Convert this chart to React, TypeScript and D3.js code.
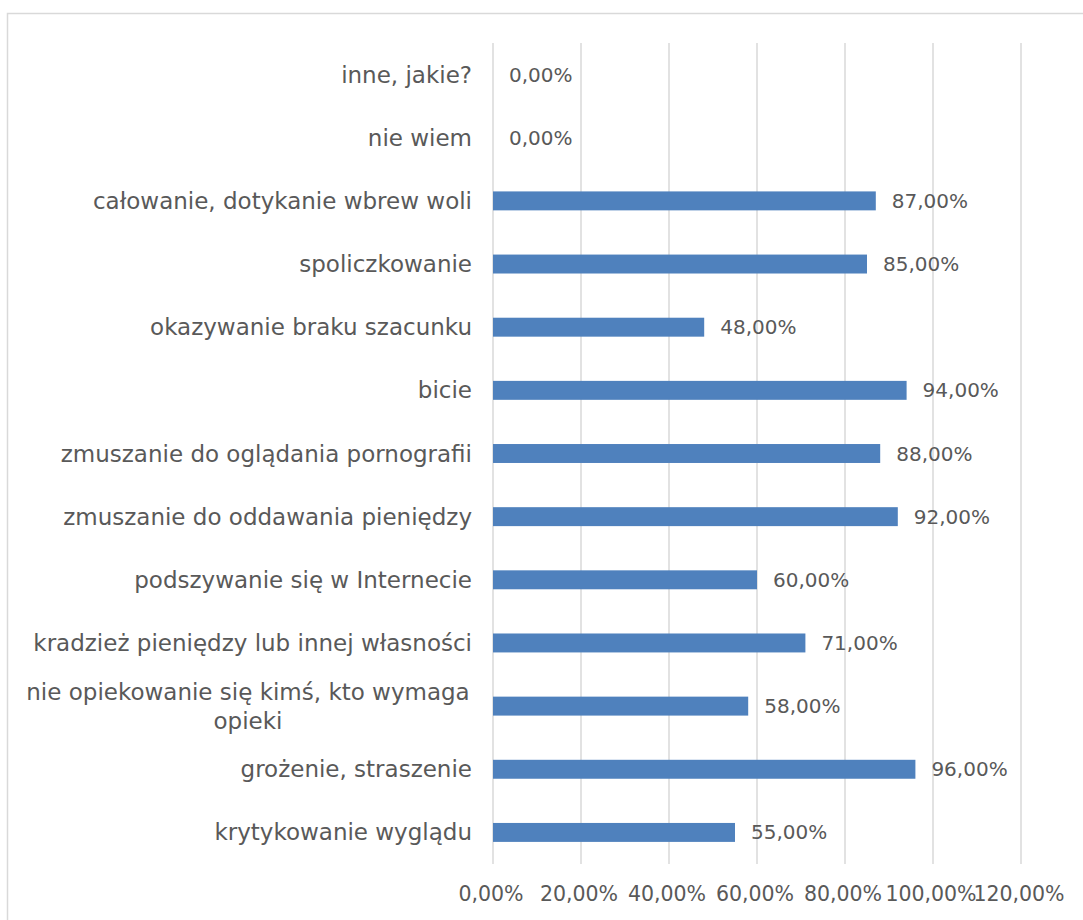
import React, { useRef, useEffect } from 'react';
import * as d3 from 'd3';

const categories: string[] = [
    'inne, jakie?',
    'nie wiem',
    'całowanie, dotykanie wbrew woli',
    'spoliczkowanie',
    'okazywanie braku szacunku',
    'bicie',
    'zmuszanie do oglądania pornografii',
    'zmuszanie do oddawania pieniędzy',
    'podszywanie się w Internecie',
    'kradzież pieniędzy lub innej własności',
    'nie opiekowanie się kimś, kto wymaga opieki',
    'grożenie, straszenie',
    'krytykowanie wyglądu',
];

const values: number[] = [0, 0, 87, 85, 48, 94, 88, 92, 60, 71, 58, 96, 55];

const ticks: number[] = [0, 20, 40, 60, 80, 100, 120];

const width = 1083;
const height = 920;
const FONT = '"DejaVu Sans", sans-serif';
const TEXT = '#595959';
const GRID = '#d9d9d9';
const BAR = '#4f81bd';

const fmt = (v: number) => v.toFixed(2).replace('.', ',') + '%';

// naive word wrap by characters, good enough for these labels
function wrapLabel(s: string, maxChars: number): string[] {
    if (s.length <= maxChars + 2) return [s];
    const words = s.split(' ');
    const lines: string[] = [];
    let cur = '';
    words.forEach(w => {
        const next = cur ? cur + ' ' + w : w;
        if (next.length > maxChars && cur) {
            lines.push(cur);
            cur = w;
        } else {
            cur = next;
        }
    });
    if (cur) lines.push(cur);
    return lines;
}

function BarChart() {
    const ref = useRef<SVGSVGElement>(null);

    useEffect(() => {
        if (!ref.current) return;
        const svg = d3.select(ref.current);
        svg.selectAll('*').remove();

        const x = d3.scaleLinear().domain([0, 120]).range([493, 1021]);
        const y = d3.scaleBand<string>().domain(categories).range([43, 864]).paddingInner(0.7).paddingOuter(0.35);

        // chart area border
        svg.append('rect')
            .attr('x', 7.5).attr('y', 13.5)
            .attr('width', 1100).attr('height', 940)
            .attr('fill', '#fff')
            .attr('stroke', GRID)
            .attr('stroke-width', 1.5);

        svg.append('g')
            .selectAll('line')
            .data(ticks)
            .join('line')
                .attr('x1', d => x(d)).attr('x2', d => x(d))
                .attr('y1', 43).attr('y2', 864)
                .attr('stroke', GRID)
                .attr('stroke-width', 1.5);

        svg.append('g')
            .selectAll('rect')
            .data(values)
            .join('rect')
                .attr('x', x(0))
                .attr('y', (d, i) => y(categories[i])!)
                .attr('width', d => x(d) - x(0))
                .attr('height', y.bandwidth())
                .attr('fill', BAR);

        svg.append('g')
                .attr('font-family', FONT)
                .attr('font-size', 20)
                .attr('fill', TEXT)
            .selectAll('text')
            .data(values)
            .join('text')
                .attr('x', d => x(d) + 16)
                .attr('y', (d, i) => y(categories[i])! + y.bandwidth() / 2)
                .attr('dy', '0.35em')
                .text(d => fmt(d));

        // category labels
        const labels = svg.append('g')
                .attr('font-family', FONT)
                .attr('font-size', 23)
                .attr('fill', TEXT);
        categories.forEach(c => {
            const lines = wrapLabel(c, 36);
            const cy = y(c)! + y.bandwidth() / 2;
            const lx = lines.length > 1 ? 248 : 472;
            const t = labels.append('text')
                .attr('text-anchor', lines.length > 1 ? 'middle' : 'end')
                .attr('x', lx)
                .attr('y', cy - (lines.length - 1) * 14.5);
            lines.forEach((l, i) => {
                t.append('tspan')
                    .attr('x', lx)
                    .attr('dy', i === 0 ? '0.35em' : 29)
                    .text(l);
            });
        });

        svg.append('g')
                .attr('font-family', FONT)
                .attr('font-size', 20.5)
                .attr('fill', TEXT)
                .attr('text-anchor', 'middle')
            .selectAll('text')
            .data(ticks)
            .join('text')
                .attr('x', d => x(d) - 2)
                .attr('y', 894)
                .attr('dy', '0.35em')
                .text(d => fmt(d));
    }, []);

    return (
        <svg
            ref={ref}
            width={width}
            height={height}
            style={{ position: 'absolute', left: 0, top: 0, background: '#fff' }}
        />
    );
}

export default function App() {
    return <BarChart />;
}
